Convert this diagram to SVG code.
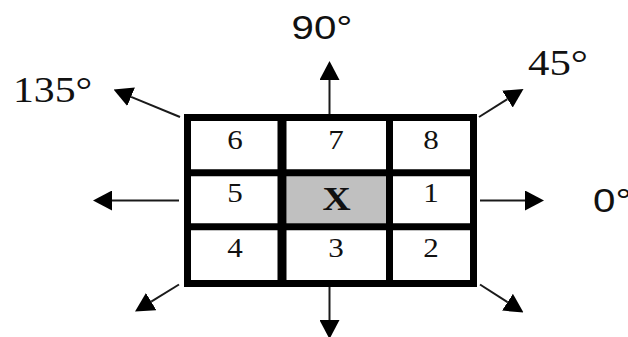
<svg xmlns="http://www.w3.org/2000/svg" width="628" height="337" viewBox="0 0 628 337">
  <style>
    .num { font-family: "Liberation Serif", "Times New Roman", serif; font-size: 27px; fill: #111; text-anchor: middle; }
    .centre { font-family: "Liberation Serif", "Times New Roman", serif; font-size: 34px; font-weight: bold; fill: #111; text-anchor: middle; }
    .deg-sans { font-family: "Liberation Sans", Arial, sans-serif; font-size: 33px; fill: #111; }
    .cell { fill: #ffffff; }
    .cell-x { fill: #c0c0c0; }
    .frame { fill: none; stroke: #000; stroke-width: 7; }
    .rule { stroke: #000; stroke-width: 7; }
    .conn { stroke: #1a1a1a; stroke-width: 2; fill: none; marker-end: url(#head); }
  </style>
  <defs>
    <marker id="head" markerUnits="userSpaceOnUse" markerWidth="19" markerHeight="20" viewBox="0 0 19 20" refX="0" refY="10" orient="auto">
      <path d="M0,0 L19,10 L0,20 z" fill="#000"/>
    </marker>
  </defs>
  <rect width="628" height="337" fill="#fff"/>

  <!-- 3x3 neighbourhood cells -->
  <g id="cell-6"><rect class="cell" x="191" y="121" width="87" height="49"/><text class="num" transform="translate(235 149) scale(1.15 1)">6</text></g>
  <g id="cell-7"><rect class="cell" x="286" y="121" width="100" height="49"/><text class="num" transform="translate(336 149) scale(1.15 1)">7</text></g>
  <g id="cell-8"><rect class="cell" x="393" y="121" width="77" height="49"/><text class="num" transform="translate(431 149) scale(1.15 1)">8</text></g>
  <g id="cell-5"><rect class="cell" x="191" y="176" width="87" height="48"/><text class="num" transform="translate(235 202) scale(1.15 1)">5</text></g>
  <g id="cell-x"><rect class="cell-x" x="286.5" y="176" width="100" height="47.5"/><text class="centre" transform="translate(336.5 209.5) scale(1.15 1)">X</text></g>
  <g id="cell-1"><rect class="cell" x="393" y="176" width="77" height="48"/><text class="num" transform="translate(431 202) scale(1.15 1)">1</text></g>
  <g id="cell-4"><rect class="cell" x="191" y="230" width="87" height="50"/><text class="num" transform="translate(235 256.5) scale(1.15 1)">4</text></g>
  <g id="cell-3"><rect class="cell" x="286" y="230" width="100" height="50"/><text class="num" transform="translate(336 256.5) scale(1.15 1)">3</text></g>
  <g id="cell-2"><rect class="cell" x="393" y="230" width="77" height="50"/><text class="num" transform="translate(431 256.5) scale(1.15 1)">2</text></g>

  <!-- grid frame and dividers -->
  <g id="grid">
    <rect class="frame" x="187.5" y="117.5" width="286" height="166"/>
    <line class="rule" x1="282" y1="117" x2="282" y2="284" style="stroke-width:9"/>
    <line class="rule" x1="389.5" y1="117" x2="389.5" y2="284"/>
    <line class="rule" x1="187" y1="172.7" x2="474" y2="172.7"/>
    <line class="rule" x1="187" y1="226.7" x2="474" y2="226.7"/>
  </g>

  <!-- direction arrows -->
  <g id="connectors">
    <line class="conn" x1="329.5" y1="114" x2="329.5" y2="80"/>
    <line class="conn" x1="329.5" y1="287" x2="329.5" y2="320"/>
    <line class="conn" x1="179" y1="200.5" x2="112" y2="200.5"/>
    <line class="conn" x1="480" y1="200.5" x2="525" y2="200.5"/>
    <line class="conn" x1="180" y1="117" x2="131.1" y2="96.8"/>
    <line class="conn" x1="479" y1="117" x2="507.4" y2="99.1"/>
    <line class="conn" x1="179" y1="284.5" x2="151.2" y2="301.6"/>
    <line class="conn" x1="480" y1="284.5" x2="507.5" y2="302.2"/>
  </g>

  <!-- angle labels -->
  <g id="labels">
    <text class="deg-sans" transform="translate(291.5 39) scale(1.22 1)">90°</text>
    <text style="font-family:'Liberation Serif','Times New Roman',serif;font-size:36px;fill:#111" transform="translate(13 102) scale(1.16 1)">135°</text>
    <text style="font-family:'Liberation Serif','Times New Roman',serif;font-size:36px;fill:#111" transform="translate(528 74.5) scale(1.19 1)">45°</text>
    <text class="deg-sans" transform="translate(593 212) scale(1.22 1)">0°</text>
  </g>
</svg>
